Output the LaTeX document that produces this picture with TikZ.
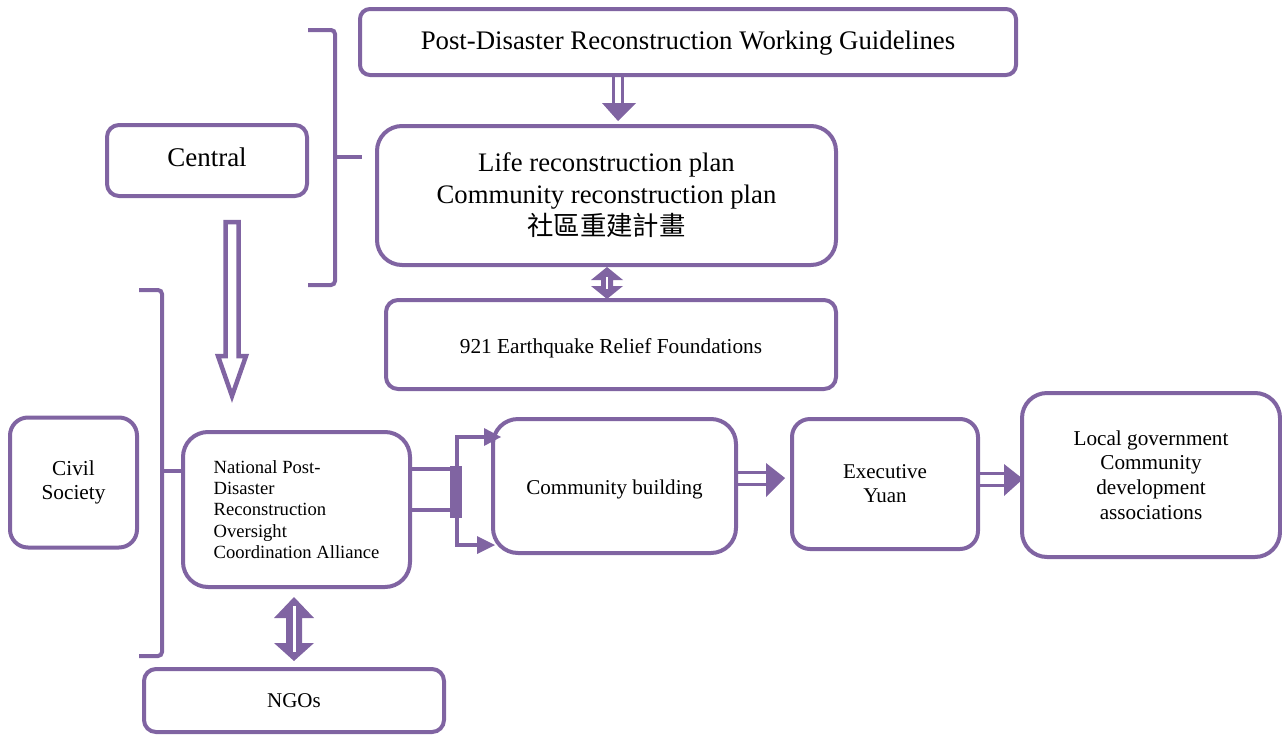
\documentclass[tikz,border=0pt]{standalone}
\usepackage{fontspec}
\setmainfont{Liberation Serif}
\newfontfamily\cjk{Noto Sans CJK TC}
\usetikzlibrary{calc}
\definecolor{pur}{HTML}{8064A2}
\tikzset{
  box/.style={draw=pur, line width=4pt, fill=white, inner sep=0pt, align=center},
  brk/.style={draw=pur, line width=4pt, rounded corners=4pt},
  arr/.style={draw=pur, line width=4.5pt},
  tip/.style={fill=pur, draw=none},
}
\begin{document}
\begin{tikzpicture}[x=1pt,y=-1pt]
\useasboundingbox (0,0) rectangle (1282,734);
% boxes
\node[box, rounded corners=10pt, minimum width=656pt, minimum height=66pt, font=\fontsize{26.8}{30}\selectfont] (g) at (688,42) {\raisebox{-1.5pt}[\height][\depth]{Post-Disaster Reconstruction Working Guidelines}};
\node[box, rounded corners=25pt, minimum width=459pt, minimum height=139pt, font=\fontsize{26.7}{32}\selectfont] (life) at (606.5,195.5) {Life reconstruction plan\\Community reconstruction plan\\{\cjk\fontsize{26.4}{32}\selectfont 社區重建計畫}};
\node[box, rounded corners=12pt, minimum width=450pt, minimum height=89pt, font=\fontsize{21.3}{24}\selectfont] (f921) at (611,344.5) {\raisebox{-4pt}[\height][\depth]{921 Earthquake Relief Foundations}};
\node[box, rounded corners=12pt, minimum width=200pt, minimum height=71pt, font=\fontsize{27}{30}\selectfont] (central) at (207,160.5) {\raisebox{3pt}[\height][\depth]{Central}};
\node[box, rounded corners=18pt, minimum width=127pt, minimum height=130pt, font=\fontsize{21.3}{24}\selectfont] (civil) at (73.5,482.5) {Civil\\Society};
\node[box, rounded corners=25pt, minimum width=227pt, minimum height=155pt, align=left, font=\fontsize{18.6}{21.2}\selectfont] (nat) at (296.5,509.5) {National Post-\\Disaster\\Reconstruction\\Oversight\\Coordination Alliance};
\node[box, rounded corners=25pt, minimum width=243pt, minimum height=134pt, font=\fontsize{21.1}{24}\selectfont] (comm) at (614.5,486) {\raisebox{-3pt}[\height][\depth]{Community building}};
\node[box, rounded corners=18pt, minimum width=186pt, minimum height=130pt, font=\fontsize{21}{24}\selectfont] (exec) at (885,484) {Executive\\Yuan};
\node[box, rounded corners=25pt, minimum width=258pt, minimum height=164pt, font=\fontsize{21.2}{24.6}\selectfont] (local) at (1151,475) {Local government\\Community\\development\\associations};
\node[box, rounded corners=12pt, minimum width=300pt, minimum height=63pt, font=\fontsize{21}{24}\selectfont] (ngo) at (294,700.5) {NGOs};
% brackets
\draw[brk] (308,30) -- (335,30) -- (335,285) -- (308,285);
\coordinate (ctip) at (362,157);
\draw[brk] (335,157) -- (ctip);
\draw[brk] (139,290) -- (162,290) -- (162,656) -- (139,656);
\draw[brk] (162,471) -- (nat.west|-{(0,471)});
% Guidelines -> Life
\draw[pur, line width=3pt] (613.5,77) -- (613.5,105) (622.5,77) -- (622.5,105);
\fill[tip] (602,103) -- (636,103) -- (618,121) -- cycle;
% Central -> National (hollow arrow)
\draw[pur, line width=4.5pt, line join=miter] (225.5,222) -- (238.5,222) -- (238.5,356) -- (246,356) -- (232,396) -- (218,356) -- (225.5,356) -- cycle;
% Life <-> 921
\fill[pur] (607,267) -- (623,280) -- (613,280) -- (613,286) -- (623,286) -- (607,299) -- (591,286) -- (601,286) -- (601,280) -- (591,280) -- cycle;
\draw[white, line width=1.5pt] (607,277) -- (607,289);
% National <-> NGOs
\fill[pur] (294,597) -- (314,618) -- (302,618) -- (302,643) -- (314,643) -- (294,661) -- (274,643) -- (286,643) -- (286,618) -- (274,618) -- cycle;
\draw[white, line width=3pt] (294,606) -- (294,652);
% National -> Community
\draw[arr] (nat.east|-{(0,469)}) -- (452,469);
\draw[arr] (nat.east|-{(0,510)}) -- (452,510);
\fill[pur] (450,466) rectangle (462,518);
\draw[arr] (457,435) -- (457,547);
\draw[arr] (455,437) -- (487,437);
\fill[tip] (484,428) -- (501,437) -- (484,446) -- cycle;
\draw[arr] (455,545) -- (480,545);
\fill[tip] (477,536) -- (495,545) -- (477,554) -- cycle;
% Community -> Executive
\draw[pur, line width=3pt] (comm.east|-{(0,472)}) -- (768,472) (comm.east|-{(0,484)}) -- (768,484);
\fill[tip] (766,463) -- (785,478) -- (766,497) -- cycle;
% Executive -> Local
\draw[pur, line width=3pt] (exec.east|-{(0,473)}) -- (1006,473) (exec.east|-{(0,485)}) -- (1006,485);
\fill[tip] (1004,464) -- (1023,479) -- (1004,496) -- cycle;
\end{tikzpicture}
\end{document}
